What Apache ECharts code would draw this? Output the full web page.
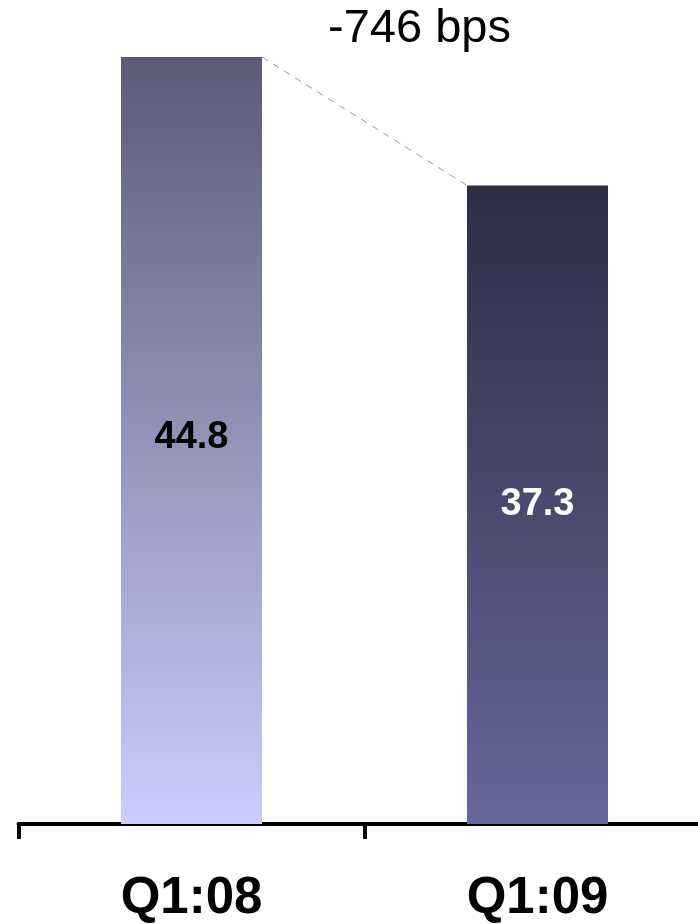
<!DOCTYPE html>
<html>
<head>
<meta charset="utf-8">
<script src="https://cdn.jsdelivr.net/npm/echarts@6/dist/echarts.min.js"></script>
<style>
  html, body { margin: 0; padding: 0; background: #ffffff; overflow: hidden; }
  #chart { width: 720px; height: 924px; }
</style>
</head>
<body>
<div id="chart"></div>
<script>
// Quarters and their values
const categories = ['Q1:08', 'Q1:09'];
const values = [44.8, 37.3];
const changeLabel = '-746 bps';

// Vertical gradient per bar: [top colour, bottom colour]
const barGradients = [
  ['#5b5b76', '#ccccff'],
  ['#2d2d45', '#67679b']
];
const labelColors = ['#000000', '#ffffff'];
const labelOffsets = [[0, -3], [0, 0]];

const BAR_WIDTH = 141;
const FONT = '"Liberation Sans", Arial, sans-serif';

const chart = echarts.init(document.getElementById('chart'), null, { renderer: 'canvas' });

const barData = values.map((v, i) => ({
  value: v,
  itemStyle: {
    color: new echarts.graphic.LinearGradient(0, 0, 0, 1, [
      { offset: 0, color: barGradients[i][0] },
      { offset: 1, color: barGradients[i][1] }
    ])
  },
  label: { color: labelColors[i], offset: labelOffsets[i] }
}));

chart.setOption({
  animation: false,
  backgroundColor: '#ffffff',
  grid: { left: 18.5, right: 9.5, top: 0, bottom: 99, containLabel: false },
  xAxis: {
    type: 'category',
    data: categories,
    boundaryGap: true,
    axisLine: { show: true, lineStyle: { color: '#000000', width: 4 } },
    axisTick: { show: true, length: 15, lineStyle: { color: '#000000', width: 4 } },
    axisLabel: {
      margin: 49,
      fontFamily: FONT,
      fontSize: 51,
      fontWeight: 'bold',
      color: '#000000'
    },
    splitLine: { show: false }
  },
  yAxis: {
    type: 'value',
    min: 0,
    max: 48.13,
    show: false,
    splitLine: { show: false }
  },
  series: [
    {
      type: 'bar',
      data: barData,
      barWidth: BAR_WIDTH,
      z: 2,
      label: {
        show: true,
        position: 'inside',
        fontFamily: FONT,
        fontSize: 38,
        fontWeight: 'bold',
        formatter: p => p.value.toFixed(1)
      }
    },
    {
      // dashed connector between the tops of the two bars
      type: 'custom',
      z: 3,
      silent: true,
      data: [[0, values[0], 1, values[1]]],
      renderItem: function (params, api) {
        const a = api.coord([api.value(0), api.value(1)]);
        const b = api.coord([api.value(2), api.value(3)]);
        return {
          type: 'line',
          shape: { x1: a[0] + BAR_WIDTH / 2, y1: a[1], x2: b[0] - BAR_WIDTH / 2, y2: b[1] },
          style: { stroke: '#9a9a9a', lineWidth: 1, lineDash: [7, 6] }
        };
      }
    }
  ],
  graphic: [
    {
      type: 'text',
      left: 328,
      top: 6,
      style: {
        text: changeLabel,
        fontFamily: FONT,
        fontSize: 47,
        fill: '#000000'
      }
    }
  ]
});
</script>
</body>
</html>
